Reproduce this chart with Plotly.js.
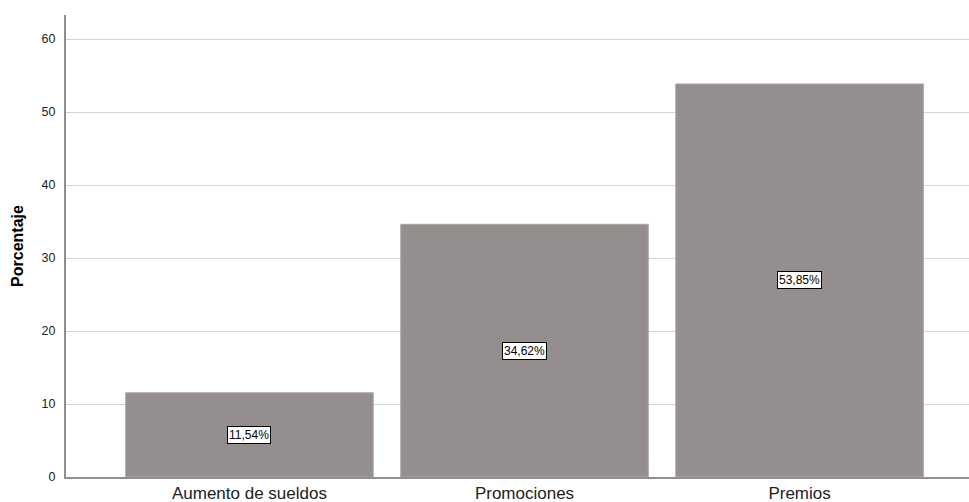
<!DOCTYPE html>
<html>
<head>
<meta charset="utf-8">
<script src="https://cdn.plot.ly/plotly-3.0.1.min.js"></script>
<style>html,body{margin:0;padding:0;background:#fff;}#chart{width:969px;height:502px;}</style>
</head>
<body>
<div id="chart"></div>
<script>
const categories = ["Aumento de sueldos", "Promociones", "Premios"];
const values = [11.54, 34.62, 53.85];
const labels = ["11,54%", "34,62%", "53,85%"];
const yTicks = [0, 10, 20, 30, 40, 50, 60];

const trace = {
  type: "bar",
  x: [0, 1, 2],
  y: values,
  width: 0.9,
  marker: {color: "#948f8e", line: {color: "#aaa5a4", width: 1}},
  hoverinfo: "none"
};

const annotations = values.map((v, i) => ({
  x: i, y: v / 2, xref: "x", yref: "y",
  text: labels[i], showarrow: false,
  font: {family: "Arial, Liberation Sans, sans-serif", size: 12, color: "#000"},
  bgcolor: "#ffffff", bordercolor: "#000000", borderwidth: 1, borderpad: 1
}));

const layout = {
  width: 969, height: 502,
  margin: {l: 66, r: 0, t: 15, b: 25},
  paper_bgcolor: "#fff", plot_bgcolor: "#fff",
  showlegend: false,
  bargap: 0,
  xaxis: {
    range: [-0.667, 2.616],
    tickvals: [0, 1, 2], ticktext: categories,
    showgrid: false, zeroline: false,
    showline: true, linecolor: "#8f8f8f", linewidth: 2,
    ticks: "", ticklen: 0, ticklabelstandoff: 0,
    tickfont: {family: "Arial, Liberation Sans, sans-serif", size: 17, color: "#222"},
    fixedrange: true
  },
  yaxis: {
    range: [0, 63.3],
    tickvals: yTicks,
    showgrid: true, gridcolor: "#d4d4d4", gridwidth: 1,
    zeroline: false,
    showline: true, linecolor: "#8f8f8f", linewidth: 2,
    ticks: "", ticklabelstandoff: 6,
    tickfont: {family: "Arial, Liberation Sans, sans-serif", size: 12.5, color: "#222"},
    title: {text: "<b>Porcentaje</b>", standoff: 14,
            font: {family: "Arial, Liberation Sans, sans-serif", size: 16, color: "#000"}},
    fixedrange: true
  },
  annotations: annotations
};

Plotly.newPlot("chart", [trace], layout, {displayModeBar: false, staticPlot: true});
</script>
</body>
</html>
